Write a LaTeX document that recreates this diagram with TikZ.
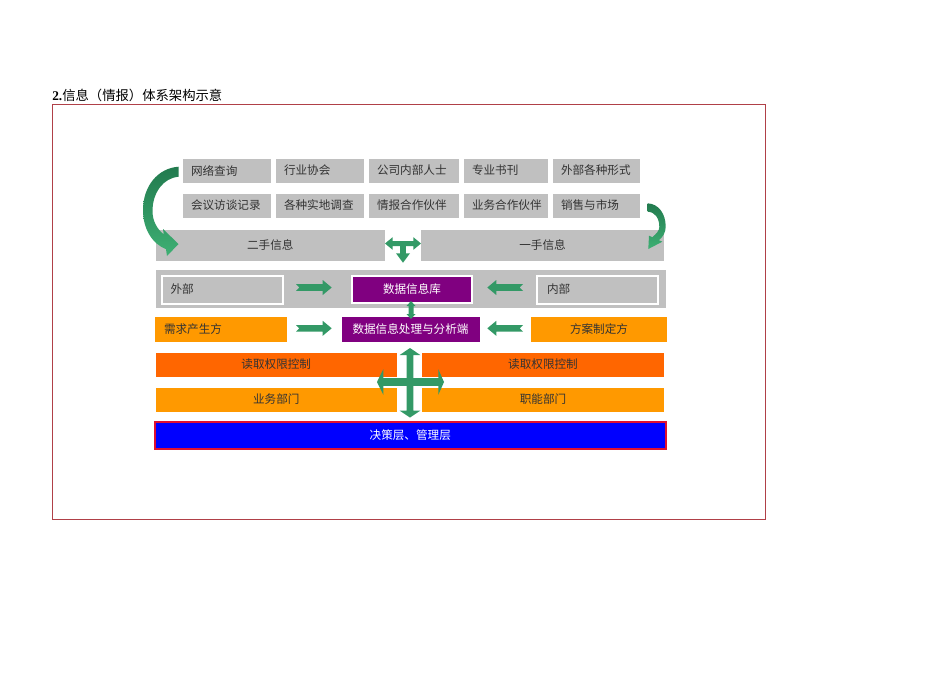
\documentclass[tikz,border=0pt]{standalone}
\usepackage{fontspec}
\setmainfont{Liberation Serif}
\newfontfamily\cjk{Noto Sans CJK SC}
\definecolor{gbox}{RGB}{192,192,192}
\definecolor{txt}{RGB}{51,51,51}
\definecolor{purp}{RGB}{128,0,128}
\definecolor{org}{RGB}{255,153,0}
\definecolor{dorg}{RGB}{255,102,0}
\definecolor{grn}{RGB}{51,153,102}
\definecolor{grnD}{RGB}{34,122,78}
\definecolor{grnL}{RGB}{62,176,116}
\definecolor{framec}{RGB}{176,64,72}
\definecolor{bluef}{RGB}{0,0,255}
\definecolor{redb}{RGB}{224,16,48}
\tikzset{
  bx/.style 2 args={rectangle, inner sep=0pt, outer sep=0pt,
    minimum width=#1*0.75pt, minimum height=#2*0.75pt,
    font=\cjk\fontsize{8.7pt}{10pt}\selectfont, text=txt},
  lbx/.style 2 args={bx={#1}{#2}, align=left, text width=(#1-16)*0.75pt},
  garr/.style={fill=grn, draw=none},
  carr/.style={top color=grnD, bottom color=grnL, draw=none}
}
\begin{document}
\begin{tikzpicture}[x=0.75pt,y=-0.75pt]
\useasboundingbox (0,0) rectangle (950,672);
\fill[white] (0,0) rectangle (950,672);

% frame and title
\node[draw=framec, line width=0.6pt, bx={713}{415}] (frm) at (408.5,311.5) {};
\node[anchor=base west, inner sep=0pt, font=\fontsize{10pt}{12pt}\selectfont] (title) at (52,100.5) {\textbf{2.}{\cjk 信息（情报）体系架构示意}};

% sources row 1
\node[lbx={88}{24}, fill=gbox] (s1) at (227,170.5) {网络查询};
\node[lbx={88}{24}, fill=gbox] (s2) at (320,170.5) {行业协会};
\node[lbx={90}{24}, fill=gbox] (s3) at (414,170.5) {公司内部人士};
\node[lbx={84}{24}, fill=gbox] (s4) at (506,170.5) {专业书刊};
\node[lbx={87}{24}, fill=gbox] (s5) at (596.5,170.5) {外部各种形式};
% sources row 2
\node[lbx={88}{24}, fill=gbox] (t1) at (227,205.5) {会议访谈记录};
\node[lbx={88}{24}, fill=gbox] (t2) at (320,205.5) {各种实地调查};
\node[lbx={90}{24}, fill=gbox] (t3) at (414,205.5) {情报合作伙伴};
\node[lbx={84}{24}, fill=gbox] (t4) at (506,205.5) {业务合作伙伴};
\node[lbx={87}{24}, fill=gbox] (t5) at (596.5,205.5) {销售与市场};

% second / first hand
\node[bx={229.5}{31}, fill=gbox] (sec) at (270.25,245.5) {二手信息};
\node[bx={243}{31}, fill=gbox] (fir) at (542.5,245.5) {一手信息};

% database band
\node[bx={510.5}{38}, fill=gbox] (band) at (410.75,289) {};
\node[lbx={121}{28}, text width=103*0.75pt, fill=gbox, draw=white, line width=1.5pt] (ext) at (222,289.5) {外部};
\node[bx={120}{27}, fill=purp, draw=white, line width=1.5pt, text=white] (db) at (412,289) {数据信息库};
\node[lbx={121}{28}, text width=101*0.75pt, fill=gbox, draw=white, line width=1.5pt] (int) at (597.5,289.5) {内部};

% processing row
\node[lbx={132.5}{25}, text width=113.5*0.75pt, fill=org] (dem) at (220.75,329) {需求产生方};
\node[bx={138}{25}, fill=purp, text=white] (proc) at (410.5,329) {数据信息处理与分析端};
\node[bx={136}{25}, fill=org] (plan) at (599,329) {方案制定方};

% access rows
\node[bx={241.5}{24}, fill=dorg] (rl) at (276.25,364.5) {读取权限控制};
\node[bx={242}{24}, fill=dorg] (rr) at (543,364.5) {读取权限控制};
\node[bx={241.5}{24}, fill=org] (bl) at (276.25,399.5) {业务部门};
\node[bx={242}{24}, fill=org] (br) at (543,399.5) {职能部门};

% decision layer
\node[bx={511.5}{27.5}, fill=bluef, draw=redb, line width=1.5pt, text=white] (dec) at (410.25,435.25) {决策层、管理层};

% curved arrows
\shade[carr] (178.7,166.7) .. controls (158,168) and (143,186) .. (143,210)
  .. controls (143,230) and (153,244) .. (166,249.2) -- (167,256) -- (178.5,244)
  -- (163,229) -- (163.8,234.4) .. controls (157,229) and (152.5,221) .. (152.5,211)
  .. controls (152.5,193) and (163,178) .. (178.7,176.7) -- cycle;
\shade[carr] (647.7,203.3) .. controls (659,204) and (665.7,214) .. (665.7,226.7)
  .. controls (665.7,232) and (663,237) .. (659,240.2) -- (662.3,241.7) -- (648.3,249)
  -- (649,235.7) -- (652.3,237.2) .. controls (656,234) and (659.3,231) .. (659.3,227)
  .. controls (659.3,218) and (655,212) .. (647.7,211.7) -- cycle;

% T arrow
\fill[garr] (385,243.5) -- (392.7,237.15) -- (392.7,241) -- (413.3,241) -- (413.3,237.15)
  -- (421,243.5) -- (413.3,249.85) -- (413.3,246) -- (405.85,246) -- (405.85,253.3)
  -- (410,253.3) -- (403,262.7) -- (396,253.3) -- (400.15,253.3) -- (400.15,246)
  -- (392.7,246) -- (392.7,249.85) -- cycle;

% band arrows
\coordinate (ra1) at (296,287.5);
\coordinate (la1) at (523,287.5);
\coordinate (ra2) at (296,328.3);
\coordinate (la2) at (523,328.3);
\foreach \c in {ra1,ra2}{
  \fill[garr] (\c) ++(0,-3.3) -- ++(26.7,0) -- ++(0,-4.2) -- ++(9,7.5) -- ++(-9,7.5)
    -- ++(0,-4.2) -- ++(-26.7,0) -- ++(3.3,-3.3) -- cycle;
}
\foreach \c in {la1,la2}{
  \fill[garr] (\c) ++(0,-3.3) -- ++(-26.7,0) -- ++(0,-4.2) -- ++(-9,7.5) -- ++(9,7.5)
    -- ++(0,-4.2) -- ++(26.7,0) -- ++(-3.3,-3.3) -- cycle;
}

% small vertical double arrow db <-> proc
\fill[garr] (411,301) -- (415.5,306) -- (413.5,306) -- (413.5,314) -- (415.5,314)
  -- (411,319) -- (406.5,314) -- (408.5,314) -- (408.5,306) -- (406.5,306) -- cycle;

% cross arrow
\fill[garr] (410,348) -- (420.3,355) -- (413.4,355) -- (413.4,378.1) -- (438.3,378.1)
  -- (438.3,369.2) -- (444,382) -- (438.3,394.8) -- (438.3,385.9) -- (413.4,385.9)
  -- (413.4,410.7) -- (420.3,410.7) -- (410,417.5) -- (399.7,410.7) -- (406.6,410.7)
  -- (406.6,385.9) -- (383.3,385.9) -- (383.3,394.8) -- (377,382) -- (383.3,369.2)
  -- (383.3,378.1) -- (406.6,378.1) -- (406.6,355) -- (399.7,355) -- cycle;
\end{tikzpicture}
\end{document}
